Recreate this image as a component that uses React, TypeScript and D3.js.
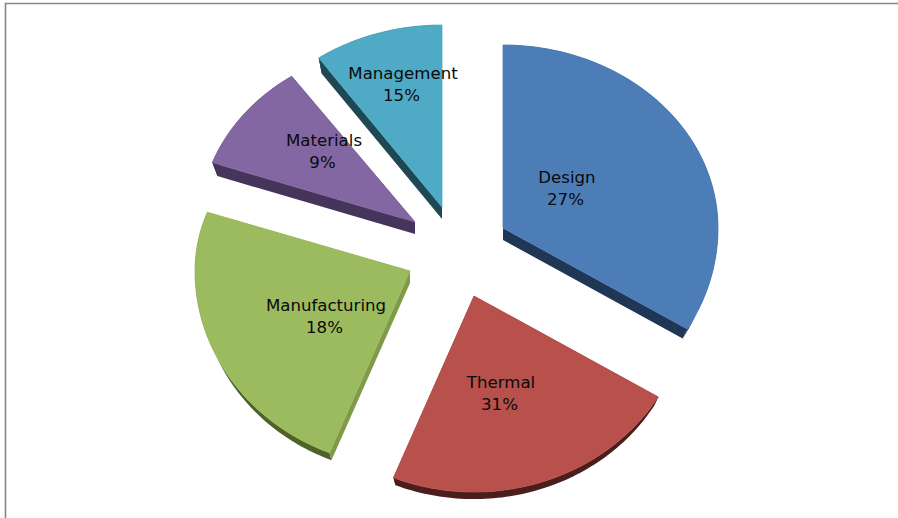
import React from "react";
import * as d3 from "d3";

const categories = ["Design", "Thermal", "Manufacturing", "Materials", "Management"];
// Percentages printed on the chart
const percentLabels = ["27%", "31%", "18%", "9%", "15%"];
// Drawn slice sizes (degrees of sweep)
const sweeps = [121, 81, 87.5, 35.5, 35];
const topColors = ["#4d7db6", "#b8504c", "#9cbb5e", "#8267a3", "#4faac5"];
const radialSideColors = ["#1f3654", "#4a1e1c", "#7f9a48", "#46345a", "#1f4855"];
const arcSideColors = ["#1f3654", "#4a1e1c", "#4f6228", "#46345a", "#1f4855"];
const apexX = [503, 474, 410, 415, 442];
const apexY = [228, 296, 271, 222, 207];
const upperRadius = [183, 183, 176, 178, 182];
const labelX = [567, 501, 326, 324, 403];
const labelY = [178, 383, 306, 141, 74];

const W = 898;
const H = 518;
const RX = 215;
const RY_DOWN = 196;
const DEPTH = 12;
const DEPTH_SCALE = 0.975;

type P = [number, number];

export default function App() {
  const arcs = d3
    .pie<number>()
    .sort(null)
    .value((d) => d)
    .startAngle(0)
    .endAngle(2 * Math.PI)(sweeps);
  const poly = d3.line<P>().curve(d3.curveLinear);

  const slices = arcs.map((a, i) => {
    const n = Math.ceil((a.endAngle - a.startAngle) / 0.02);
    const angle = d3.scaleLinear().domain([0, n]).range([a.startAngle, a.endAngle]);
    const rim: P[] = d3.range(n + 1).map((k) => {
      const t = angle(k);
      const c = Math.cos(t);
      return [RX * Math.sin(t), -(c > 0 ? upperRadius[i] : RY_DOWN) * c];
    });
    const ax = apexX[i];
    const ay = apexY[i];
    const top = (p: P): P => [ax + p[0], ay + p[1]];
    const bot = (p: P): P => [ax + p[0] * DEPTH_SCALE, ay + DEPTH + p[1] * DEPTH_SCALE];
    const o: P = [0, 0];
    const arcQuads = d3
      .range(n)
      .map((k) => poly([top(rim[k]), top(rim[k + 1]), bot(rim[k + 1]), bot(rim[k])]) + "Z")
      .join("");
    const first = rim[0];
    const last = rim[n];
    const radial =
      poly([top(o), top(first), bot(first), bot(o)]) +
      "Z" +
      poly([top(o), top(last), bot(last), bot(o)]) +
      "Z";
    return {
      i,
      face: poly([top(o), ...rim.map(top)]) + "Z",
      arcQuads,
      radial,
    };
  });

  return (
    <svg
      width={W}
      height={H}
      viewBox={`0 0 ${W} ${H}`}
      style={{ position: "absolute", left: 0, top: 0, background: "#fff" }}
    >
      <path d={`M5.5,${H}V3.5H${W}`} fill="none" stroke="#868686" strokeWidth={1.6} />
      {slices.map((s) => (
        <g key={categories[s.i]}>
          <path d={s.arcQuads} fill={arcSideColors[s.i]} />
          <path d={s.radial} fill={radialSideColors[s.i]} />
          <path d={s.face} fill={topColors[s.i]} stroke={topColors[s.i]} strokeWidth={0.8} />
        </g>
      ))}
      {categories.map((c, i) => (
        <text
          key={c}
          textAnchor="middle"
          fontFamily="'DejaVu Sans', sans-serif"
          fontSize={16.6}
          fill="#0a0a0a"
        >
          <tspan x={labelX[i]} y={labelY[i] + 5}>{c}</tspan>
          <tspan x={labelX[i] - 1.5} y={labelY[i] + 27}>{percentLabels[i]}</tspan>
        </text>
      ))}
    </svg>
  );
}
